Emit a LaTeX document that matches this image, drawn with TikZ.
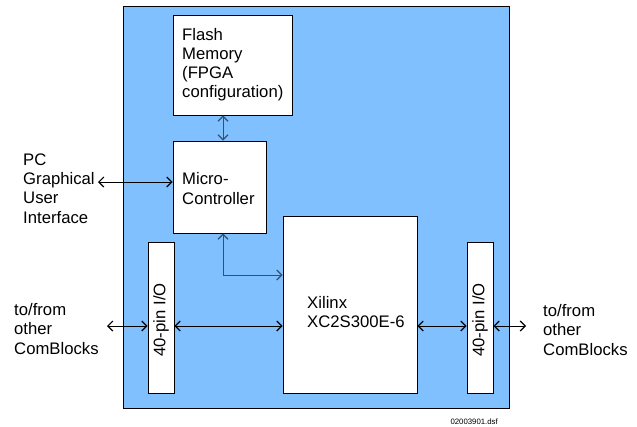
\documentclass[tikz,border=0pt]{standalone}
\usepackage{fontspec}
\setmainfont{Liberation Sans}
\usetikzlibrary{arrows.meta}
\definecolor{bgblue}{RGB}{128,192,255}
\definecolor{conn}{RGB}{52,80,108}
\begin{document}
\begin{tikzpicture}[x=1pt,y=-1pt,
  box/.style={draw=black,line width=0.8pt,fill=white,inner sep=0pt,minimum width=#1},
  lbl/.style={inner sep=0pt,align=left,anchor=base west,font=\fontsize{16.7}{19.3}\selectfont},
  conarrow/.style={line width=1pt,{Straight Barb[length=5pt,width=10pt,line width=1.2pt]}-{Straight Barb[length=5pt,width=10pt,line width=1.2pt]}},
  ]
\useasboundingbox (0,0) rectangle (637,426);
\node[draw=black,line width=0.8pt,fill=bgblue,minimum width=386pt,minimum height=402pt,inner sep=0pt] (board) at (316,207) {};
\node[box=119pt,minimum height=100pt] (flash) at (232.5,65) {};
\node[box=93pt,minimum height=92pt] (micro) at (219.5,187) {};
\node[box=26pt,minimum height=151pt] (lio) at (161,317.5) {};
\node[box=134pt,minimum height=177pt] (xil) at (350,304.5) {};
\node[box=26pt,minimum height=151pt] (rio) at (480,317.5) {};

% base anchor = baseline of the last line
\node[lbl] (tflash) at (182,97.9) {Flash\\Memory\\(FPGA\\configuration)};
\node[lbl] (tmicro) at (182,204) {Micro-\\Controller};
\node[lbl] (txil) at (307,327.5) {Xilinx\\XC2S300E-6};
\node[lbl] (tpc) at (23,223) {PC\\Graphical\\User\\Interface};
\node[lbl] (tleft) at (14,354) {to/from\\other\\ComBlocks};
\node[lbl] (tright) at (543,355) {to/from\\other\\ComBlocks};
\node[inner sep=0pt,rotate=90,font=\fontsize{16.7}{19.3}\selectfont] (tlio) at (161,320) {40-pin I/O};
\node[inner sep=0pt,rotate=90,font=\fontsize{16.7}{19.3}\selectfont] (trio) at (480,320) {40-pin I/O};
\node[inner sep=0pt,anchor=base east,font=\fontsize{7.8}{9}\selectfont] (foot) at (498,424) {02003901.dsf};

\coordinate (fx) at (223,0);
\coordinate (mxy) at (0,275);
\coordinate (pc) at (98,182);
\coordinate (row) at (0,326);
\coordinate (lo) at (107,326);
\coordinate (ro) at (526,326);

\draw[conarrow,draw=conn] (flash.south -| fx) -- (micro.north -| fx);
\draw[conarrow,draw=conn] (micro.south -| fx) |- (xil.west |- mxy);
\draw[conarrow] (pc) -- (micro.west |- pc);
\draw[conarrow] (lo) -- (lio.west |- row);
\draw[conarrow] (lio.east |- row) -- (xil.west |- row);
\draw[conarrow] (xil.east |- row) -- (rio.west |- row);
\draw[conarrow] (rio.east |- row) -- (ro);
\end{tikzpicture}
\end{document}
